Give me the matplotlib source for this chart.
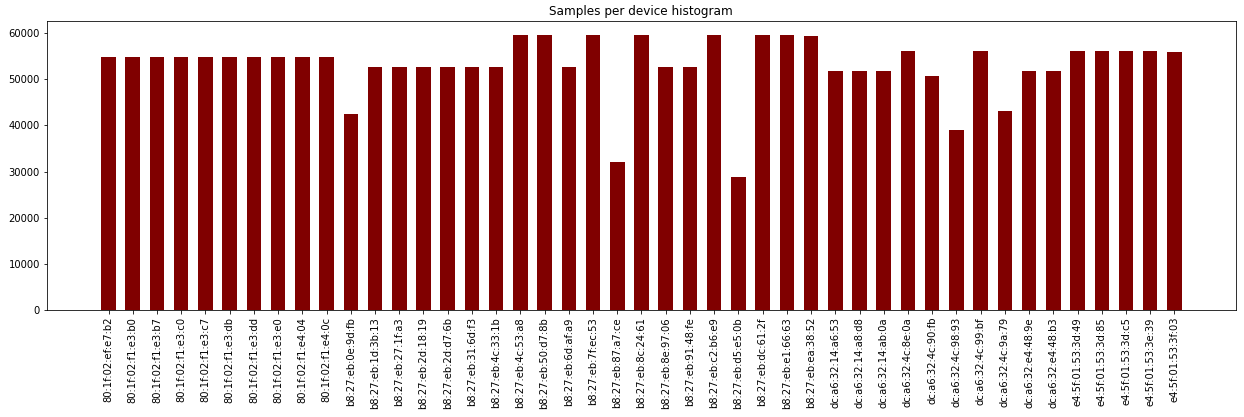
import matplotlib
matplotlib.use("Agg")
import matplotlib.pyplot as plt
import numpy as np

devices = [
    "80:1f:02:ef:e7:b2", "80:1f:02:f1:e3:b0", "80:1f:02:f1:e3:b7", "80:1f:02:f1:e3:c0",
    "80:1f:02:f1:e3:c7", "80:1f:02:f1:e3:db", "80:1f:02:f1:e3:dd", "80:1f:02:f1:e3:e0",
    "80:1f:02:f1:e4:04", "80:1f:02:f1:e4:0c",
    "b8:27:eb:0e:9d:fb", "b8:27:eb:1d:3b:13", "b8:27:eb:27:1f:a3", "b8:27:eb:2d:18:19",
    "b8:27:eb:2d:d7:6b", "b8:27:eb:31:6d:f3", "b8:27:eb:4c:33:1b", "b8:27:eb:4c:53:a8",
    "b8:27:eb:50:d7:8b", "b8:27:eb:6d:af:a9", "b8:27:eb:7f:ec:53", "b8:27:eb:87:a7:ce",
    "b8:27:eb:8c:24:61", "b8:27:eb:8e:97:06", "b8:27:eb:91:48:fe", "b8:27:eb:c2:b6:e9",
    "b8:27:eb:d5:e5:0b", "b8:27:eb:dc:61:2f", "b8:27:eb:e1:66:63", "b8:27:eb:ea:38:52",
    "dc:a6:32:14:a6:53", "dc:a6:32:14:a8:d8", "dc:a6:32:14:ab:0a", "dc:a6:32:4c:8e:0a",
    "dc:a6:32:4c:90:fb", "dc:a6:32:4c:98:93", "dc:a6:32:4c:99:bf", "dc:a6:32:4c:9a:79",
    "dc:a6:32:e4:48:9e", "dc:a6:32:e4:48:b3",
    "e4:5f:01:53:3d:49", "e4:5f:01:53:3d:85", "e4:5f:01:53:3d:c5", "e4:5f:01:53:3e:39",
    "e4:5f:01:53:3f:03",
]

samples = [
    54850, 54850, 54850, 54850, 54850, 54850, 54850, 54850, 54850, 54850,
    42460, 52670, 52670, 52670, 52670, 52670, 52670, 59630, 59630, 52670,
    59630, 32020, 59630, 52670, 52670, 59630, 28760, 59630, 59630, 59410,
    51800, 51800, 51800, 56150, 50720, 38960, 56150, 43100, 51800, 51800,
    56150, 56150, 56150, 56150, 55930,
]

fig = plt.figure(figsize=(1244 / 72, 417 / 72), dpi=72)
ax = fig.add_axes([47 / 1244, 1 - 310 / 417, (1235.5 - 47) / 1244, (310 - 21) / 417])
x = np.arange(len(devices))
ax.bar(x, samples, width=0.6, color="#800000")
ax.set_xticks(x)
ax.set_xticklabels(devices, rotation=90)
ax.set_xlim(-2.54, len(devices) - 1 + 2.52)
ax.set_ylim(0, 62600)
ax.set_title("Samples per device histogram")
fig.savefig("out.png", dpi=72)
